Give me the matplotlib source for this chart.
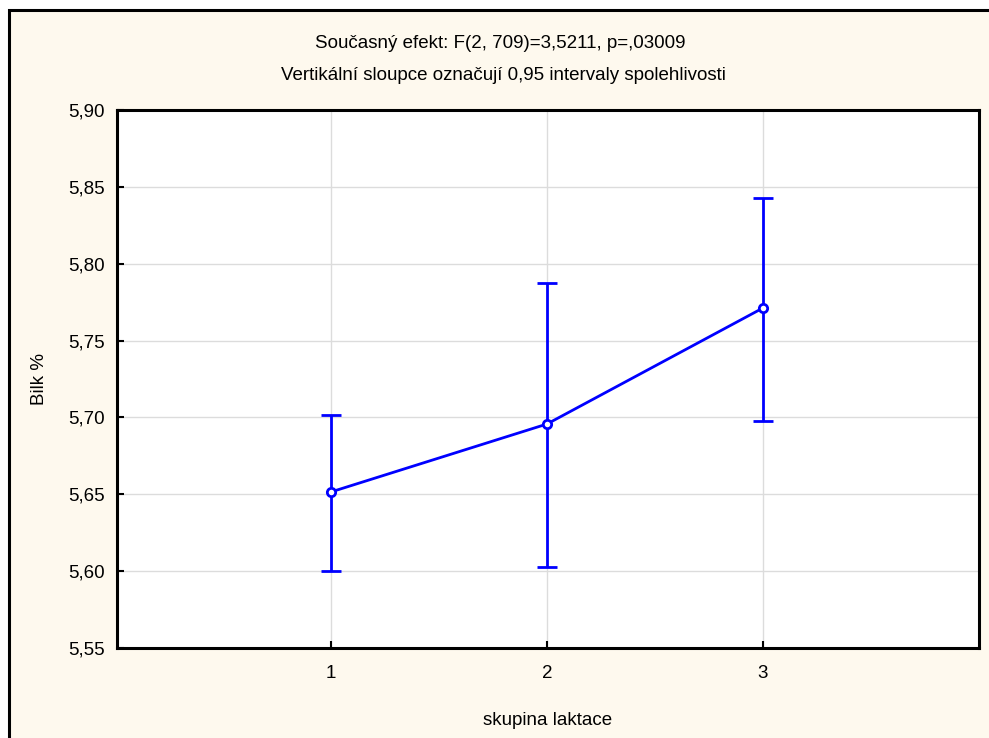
import numpy as np
import matplotlib.pyplot as plt
from matplotlib.patches import Rectangle

plt.rcParams['font.family'] = ['Liberation Sans', 'DejaVu Sans']

skupina = [1, 2, 3]
prumer = [5.6515, 5.6957, 5.7712]
horni = [5.7016, 5.7875, 5.8427]
dolni = [5.6001, 5.6027, 5.6977]
yticks = [5.55, 5.60, 5.65, 5.70, 5.75, 5.80, 5.85, 5.90]

W, H = 989, 738
fig = plt.figure(figsize=(W / 100, H / 100), dpi=100)
fig.patch.set_facecolor('white')

# cream panel, cut off on the right and bottom
panel = Rectangle((9 / W, -0.05), 1.1, (H - 10) / H + 0.05, transform=fig.transFigure,
                  facecolor='#fef9ee', edgecolor='black', linewidth=2.2, zorder=-1)
fig.patches.append(panel)

ax = fig.add_axes([117 / W, 1 - 648 / H, (979 - 117) / W, (648 - 110) / H])
ax.set_facecolor('white')

y = np.array(prumer)
err = [y - np.array(dolni), np.array(horni) - y]
ax.errorbar(skupina, prumer, yerr=err, color='#0000ff', linewidth=2, elinewidth=2,
            capsize=7.5, capthick=2, marker='o', markersize=6, markerfacecolor='white',
            markeredgecolor='#0000ff', markeredgewidth=2, zorder=3)

ax.set_xlim(0.01, 4.0)
ax.set_ylim(5.55, 5.90)
ax.set_xticks(skupina)
ax.set_yticks(yticks)
ax.set_yticklabels([f'{v:.2f}'.replace('.', ',') for v in yticks])
ax.tick_params(direction='in', length=5, width=1.5, labelsize=13.5, pad=9)
ax.tick_params(axis='x', pad=12)
ax.grid(True, color='#dcdcdc', linewidth=1)
ax.set_axisbelow(True)
for s in ax.spines.values():
    s.set_linewidth(2.2)

ax.set_xlabel('skupina laktace', fontsize=13.5, labelpad=22)
ax.set_ylabel('Bilk %', fontsize=13.5, labelpad=14)

fig.text(500 / W, 1 - 43 / H, 'Současný efekt: F(2, 709)=3,5211, p=,03009',
         fontsize=13.5, ha='center', va='center')
fig.text(503 / W, 1 - 75 / H, 'Vertikální sloupce označují 0,95 intervaly spolehlivosti',
         fontsize=13.5, ha='center', va='center')

fig.savefig('out.png', dpi=100, facecolor=fig.get_facecolor())
